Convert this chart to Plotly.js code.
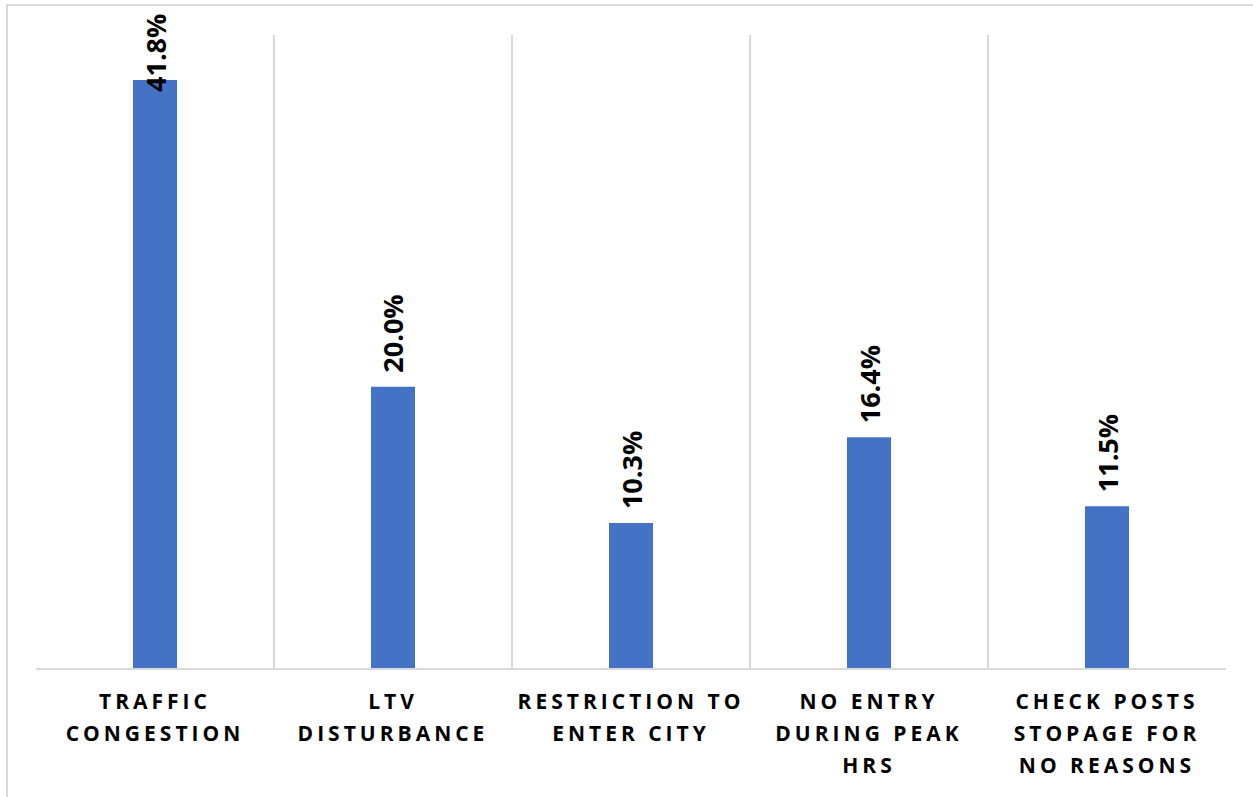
<!DOCTYPE html>
<html>
<head>
<meta charset="utf-8">
<script src="https://cdn.plot.ly/plotly-3.0.1.min.js"></script>
<style>
  html, body { margin: 0; padding: 0; background: #ffffff; }
  #chart { width: 1253px; height: 797px; }
  .xtick text { letter-spacing: 4px; }
</style>
</head>
<body>
<div id="chart"></div>
<script>
// Reasons reported for truck movement problems (share of respondents, %)
const categories = [
  'TRAFFIC<br>CONGESTION',
  'LTV<br>DISTURBANCE',
  'RESTRICTION TO<br>ENTER CITY',
  'NO ENTRY<br>DURING PEAK<br>HRS',
  'CHECK POSTS<br>STOPAGE FOR<br>NO REASONS'
];
const shares = [41.8, 20.0, 10.3, 16.4, 11.5];

const Y_MAX = 45;
const BAR_COLOR = '#4472C4';
const GRID_COLOR = '#D9D9D9';
const LABEL_FONT = { family: 'Open Sans, sans-serif', size: 27, color: '#000000', weight: 700 };

// Plot area in pixels, used to place the outer chart frame
const W = 1253, H = 797;
const M = { l: 36, r: 27, t: 35, b: 129 };
const plotW = W - M.l - M.r, plotH = H - M.t - M.b;
const px2x = p => (p - M.l) / plotW;
const py2y = p => (H - M.b - p) / plotH;

const trace = {
  type: 'bar',
  x: categories,
  y: shares,
  marker: { color: BAR_COLOR },
  hoverinfo: 'skip'
};

// Value labels, rotated, sitting on top of each bar; the tallest one is
// pushed down so that it stays inside the chart frame.
const annotations = shares.map((v, i) => {
  const tooTall = v > 35;
  return {
    x: categories[i],
    xref: 'x',
    y: tooTall ? py2y(12) : v,
    yref: tooTall ? 'paper' : 'y',
    yanchor: tooTall ? 'top' : 'bottom',
    yshift: tooTall ? 0 : 12,
    text: v.toFixed(1) + '%',
    textangle: -90,
    showarrow: false,
    font: LABEL_FONT
  };
});

const layout = {
  width: W,
  height: H,
  margin: M,
  paper_bgcolor: '#ffffff',
  plot_bgcolor: '#ffffff',
  showlegend: false,
  bargap: 0.815,
  xaxis: {
    type: 'category',
    tickson: 'boundaries',
    showgrid: true,
    gridcolor: GRID_COLOR,
    gridwidth: 1.5,
    showline: true,
    linecolor: GRID_COLOR,
    linewidth: 1.5,
    ticks: '',
    ticklabelstandoff: 14,
    tickfont: { family: 'Open Sans, sans-serif', size: 21, color: '#000000', weight: 700 },
    fixedrange: true
  },
  yaxis: {
    range: [0, Y_MAX],
    showgrid: false,
    zeroline: false,
    showticklabels: false,
    showline: false,
    ticks: '',
    fixedrange: true
  },
  shapes: [{
    type: 'rect',
    xref: 'paper', yref: 'paper',
    x0: px2x(7), x1: px2x(1262),
    y0: py2y(806), y1: py2y(5),
    line: { color: GRID_COLOR, width: 2 },
    fillcolor: 'rgba(0,0,0,0)',
    layer: 'below'
  }],
  annotations: annotations
};

Plotly.newPlot('chart', [trace], layout, { displayModeBar: false, staticPlot: true })
  .then(gd => {
    // Wider spacing between the lines of the category labels
    gd.querySelectorAll('.xtick text tspan.line').forEach(t => {
      const n = parseFloat(t.getAttribute('dy')) / 1.3;
      if (n > 0) t.setAttribute('dy', (n * 32) + 'px');
    });
  });
</script>
</body>
</html>
